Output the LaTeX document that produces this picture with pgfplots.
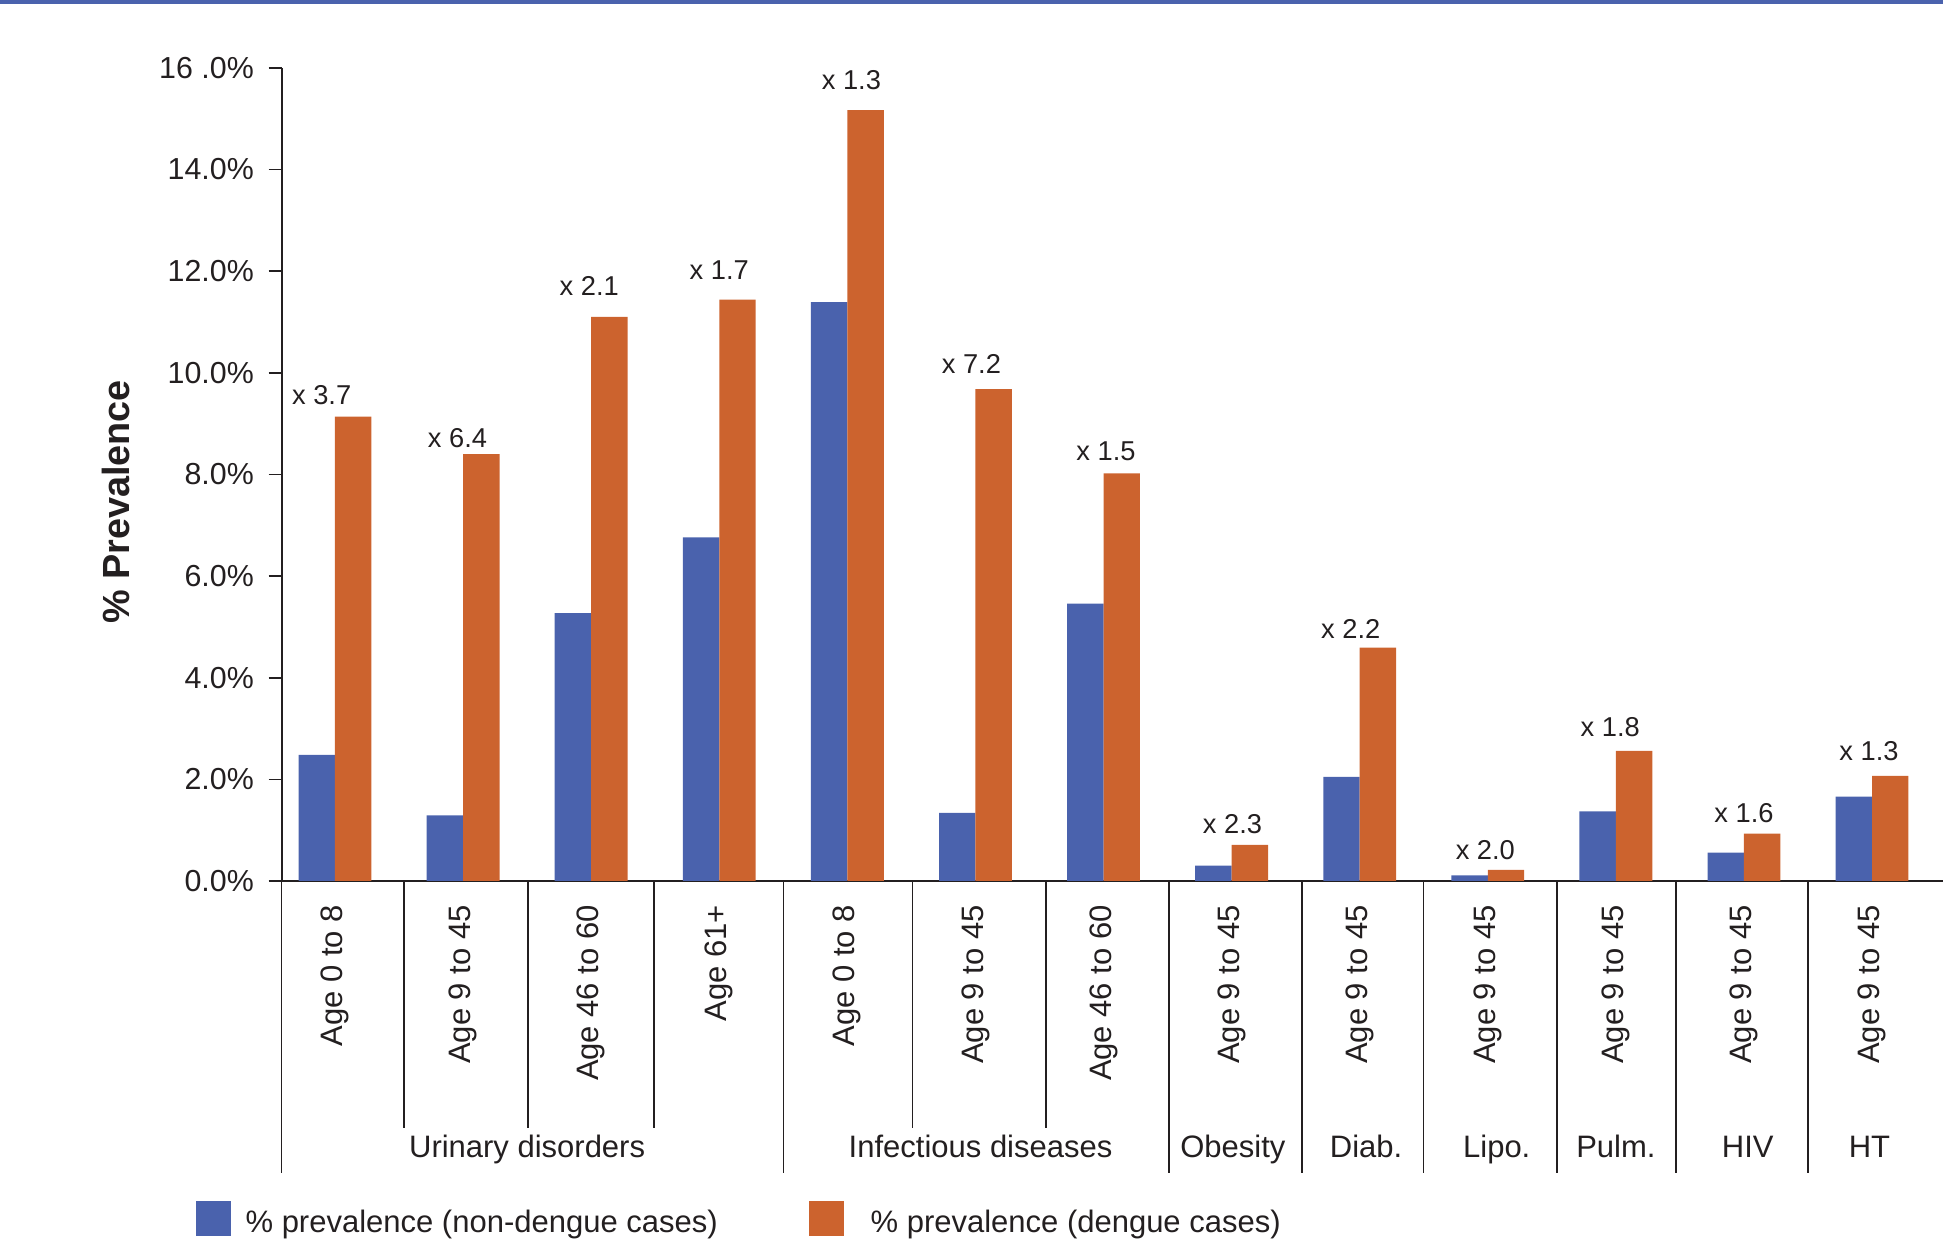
\documentclass[border=0pt]{standalone}
\usepackage{fontspec}
\setmainfont{Liberation Sans}
\usepackage{pgfplots}
\usepackage{pgfplotstable}
\pgfplotsset{compat=1.18}

\definecolor{nondengue}{RGB}{74,98,173}
\definecolor{dengue}{RGB}{204,99,46}
\definecolor{ink}{RGB}{35,31,32}

% ratio label nudged by #1 pt sideways and #2 pt up
\newcommand\ratiolabel[3]{\raisebox{#2pt}{\makebox[0pt]{\hspace*{#1pt}\hspace*{#1pt}#3}}}

% prevalence (%) per category: non-dengue, dengue, and the fold ratio
\pgfplotstableread[col sep=comma]{
x,nondengue,dengue,ratio
0,2.48,9.14,\ratiolabel{-4.3}{4.0}{x 3.7}
1,1.29,8.40,\ratiolabel{-1.8}{2.2}{x 6.4}
2,5.27,11.10,\ratiolabel{-0.6}{6.8}{x 2.1}
3,6.76,11.44,\ratiolabel{0.0}{6.4}{x 1.7}
4,11.39,15.17,\ratiolabel{1.3}{6.8}{x 1.3}
5,1.34,9.68,\ratiolabel{-1.3}{5.1}{x 7.2}
6,5.46,8.02,\ratiolabel{0.8}{4.1}{x 1.5}
7,0.30,0.71,\ratiolabel{0.3}{3.8}{x 2.3}
8,2.05,4.59,\ratiolabel{-2.9}{3.0}{x 2.2}
9,0.11,0.22,\ratiolabel{-0.8}{3.2}{x 2.0}
10,1.37,2.56,\ratiolabel{-1.8}{4.8}{x 1.8}
11,0.56,0.93,\ratiolabel{0.0}{3.6}{x 1.6}
12,1.66,2.07,\ratiolabel{-1.0}{4.8}{x 1.3}
}\prevalence

\tikzset{groupname/.style={anchor=base, inner sep=0pt, text=ink, font=\fontsize{10}{12}\selectfont, yshift=-89.3pt}}

\begin{document}
\begin{tikzpicture}
\begin{axis}[
  at={(0,0)}, anchor=south west,
  scale only axis, width=535.9pt, height=262.3pt,
  xmin=-0.416, xmax=12.553, ymin=0, ymax=16,
  axis x line*=bottom, axis y line*=left,
  axis line style={draw=ink, line width=0.55pt},
  ybar, bar width=11.75pt,
  ytick={0,2,...,16},
  yticklabels={0.0\%,2.0\%,4.0\%,6.0\%,8.0\%,10.0\%,12.0\%,14.0\%,16 .0\%},
  xtick={0,...,12},
  xticklabels={Age 0 to 8,Age 9 to 45,Age 46 to 60,Age 61+,Age 0 to 8,Age 9 to 45,Age 46 to 60,Age 9 to 45,Age 9 to 45,Age 9 to 45,Age 9 to 45,Age 9 to 45,Age 9 to 45},
  tick align=outside, major tick length=4.2pt,
  ytick style={draw=ink, line width=0.55pt},
  xtick style={draw=none},
  yticklabel style={font=\fontsize{9.8}{11}\selectfont, text=ink, inner sep=0pt, anchor=east, xshift=-4.6pt},
  xticklabel style={font=\fontsize{10}{12}\selectfont, text=ink, rotate=90, anchor=east, inner sep=0pt},
  xticklabel shift=3.4pt,
  clip=false,
]
\addplot[fill=nondengue, draw=none, bar shift=-5.875pt] table[x=x, y=nondengue]{\prevalence};
\addplot[fill=dengue, draw=none, bar shift=5.875pt,
  nodes near coords, point meta=explicit symbolic,
  nodes near coords style={font=\fontsize{8.8}{10}\selectfont, text=ink, anchor=base, inner sep=0pt, xshift=-5.875pt}]
  table[x=x, y=dengue, meta=ratio]{\prevalence};

% separators between age bands inside a group
\pgfplotsinvokeforeach{0.539,1.507,2.49,4.51,5.55}{
  \draw[ink, line width=0.45pt] (axis cs:#1,0) -- ++(0pt,-79.7pt);
}
% separators between disease groups
\pgfplotsinvokeforeach{-0.416,3.50,6.51,7.55,8.50,9.54,10.47,11.50}{
  \draw[ink, line width=0.45pt] (axis cs:#1,0) -- ++(0pt,-94.2pt);
}
% disease group names
\node[groupname] at (axis cs:1.50,0) {Urinary disorders};
\node[groupname] at (axis cs:5.04,0) {Infectious diseases};
\node[groupname] at (axis cs:7.01,0) {Obesity};
\node[groupname] at (axis cs:8.05,0) {Diab.};
\node[groupname] at (axis cs:9.07,0) {Lipo.};
\node[groupname] at (axis cs:10.0,0) {Pulm.};
\node[groupname] at (axis cs:11.03,0) {HIV};
\node[groupname] at (axis cs:11.98,0) {HT};
\end{axis}

\begin{scope}[x=0.3226pt, y=-0.3226pt, shift={(-281.7,-881)}]
  \fill[nondengue] (0,0) rectangle (1943,3.7);
  \node[rotate=90, text=ink, font=\bfseries\fontsize{12.2}{14}\selectfont] at (115.5,502) {\% Prevalence};
  \fill[nondengue] (196,1201) rectangle (231,1236);
  \node[anchor=base west, inner sep=0pt, text=ink, font=\fontsize{10}{12}\selectfont] at (245,1233) {\% prevalence (non-dengue cases)};
  \fill[dengue] (809,1201) rectangle (844,1236);
  \node[anchor=base west, inner sep=0pt, text=ink, font=\fontsize{10}{12}\selectfont] at (870,1233) {\% prevalence (dengue cases)};
  \pgfresetboundingbox
  \useasboundingbox (0,0) rectangle (1943,1249);
\end{scope}
\end{tikzpicture}
\end{document}
